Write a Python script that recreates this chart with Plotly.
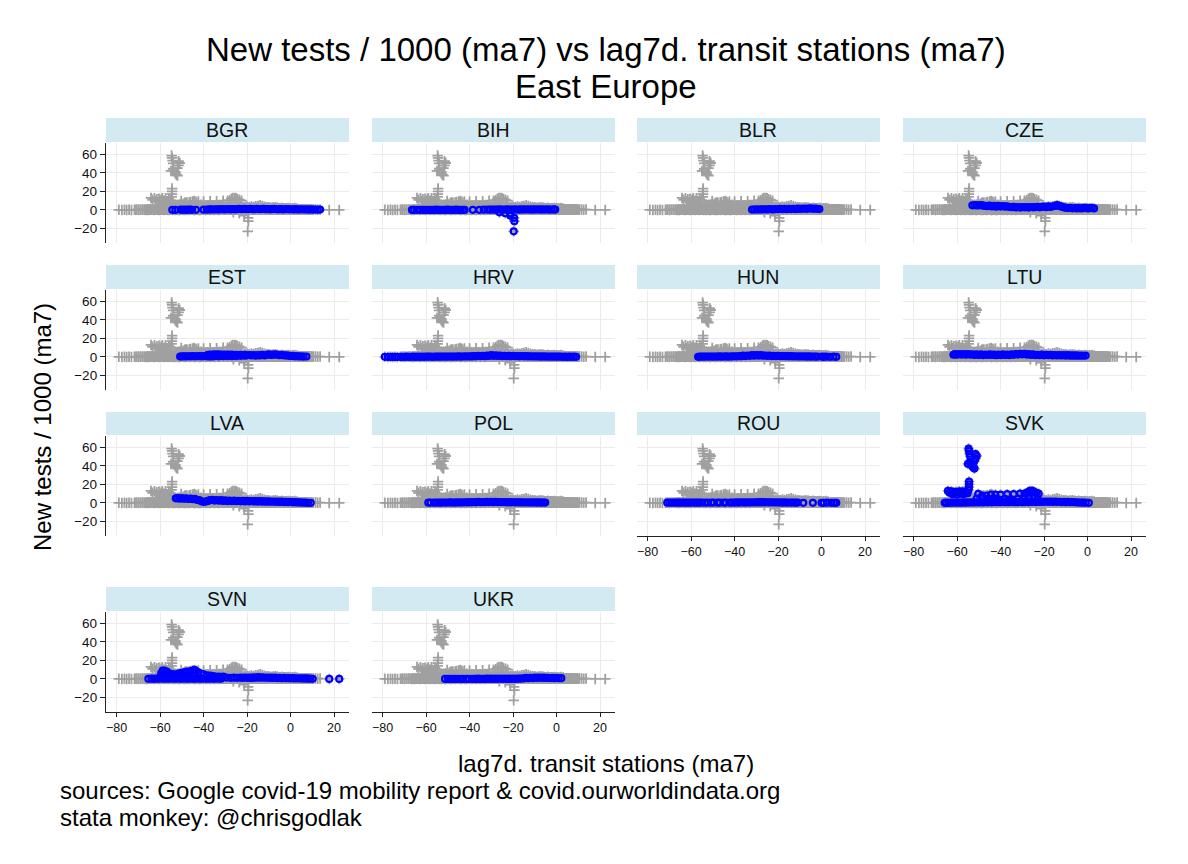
import plotly.graph_objects as go

BGR = [(-54.4,0.2),(-53.0,0.1),(-50.5,0.3),(-49.6,0.2),(-48.7,0.4),(-47.8,0.2),(-47,0.3),(-46.1,0.5),(-45.3,0.2),(-43.5,0.2),(-40,0.3),(-38.5,0.4),(-37.4,0.6),(-36.5,0.7),(-35.4,0.5),(-34.5,0.8),(-33.5,0.6),(-32.6,0.7),(-31.6,0.9),(-30.5,0.6),(-29.5,0.8),(-28.6,0.9),(-27.5,0.6),(-26.4,1.0),(-25.5,0.7),(-24.5,0.9),(-23.5,1.1),(-22.5,0.8),(-21.4,1.3),(-20.5,0.9),(-19.5,1.0),(-18.5,1.2),(-17.5,0.8),(-16.5,0.9),(-15.5,1.1),(-14.6,0.8),(-13.5,1.0),(-12.5,1.2),(-11.5,0.9),(-10.5,1.0),(-9.5,0.7),(-8.5,0.9),(-7.5,1.1),(-6.5,0.8),(-5.5,0.7),(-4.5,1.0),(-3.5,0.6),(-2.5,0.8),(-1.5,1.0),(-0.5,0.7),(0.5,0.8),(1.5,0.6),(2.5,0.9),(3.5,0.5),(4.5,0.7),(5.5,0.8),(6.5,0.5),(7.5,0.7),(8.5,0.4),(9.5,0.6),(10.5,0.4),(11.5,0.5),(12.5,0.3),(13.6,0.4)]
BIH = [(-66.5,0.1),(-65.5,0.1),(-64.2,0.2),(-62.8,0.1),(-61.5,0.2),(-60.5,0.1),(-59.2,0.2),(-58.2,0.1),(-57.2,0.2),(-56.2,0.1),(-55.2,0.3),(-54.2,0.1),(-53.2,0.2),(-52.2,0.2),(-51.2,0.1),(-50.2,0.3),(-49.2,0.2),(-48.2,0.1),(-47.2,0.2),(-46.2,0.3),(-45.2,0.2),(-44.3,0.1),(-43.2,0.2),(-42.3,0.1),(-38.5,0.2),(-35.5,0.2),(-33.5,0.3),(-31.8,0.4),(-30.6,0.3),(-29.5,0.5),(-28.5,0.3),(-27.5,0.4),(-26.5,0.6),(-26.3,-2.5),(-25.5,0.4),(-24.5,0.5),(-23.6,-3.5),(-23.4,0.4),(-22.4,0.6),(-21.3,-6.0),(-21.3,-3.6),(-21.2,0.5),(-20.3,0.4),(-19.4,-12.0),(-19.5,-8.5),(-19.7,-23.0),(-19.2,0.6),(-18.2,0.5),(-17.2,0.4),(-16.2,0.6),(-15.2,0.5),(-14.2,0.7),(-13.2,0.5),(-12.2,0.6),(-11.2,0.4),(-10.2,0.6),(-9.2,0.5),(-8.2,0.7),(-7.2,0.4),(-6.2,0.6),(-5.2,0.5),(-4.2,0.6),(-3.2,0.4),(-2.2,0.5),(-1.2,0.6),(-0.6,0.4)]
BLR = [(-32,0.4),(-31,0.5),(-30,0.6),(-29,0.5),(-28,0.7),(-27,0.6),(-26,0.8),(-25,0.5),(-24,0.9),(-23,0.7),(-22,0.6),(-21,1.0),(-20,0.8),(-19,1.2),(-18,0.9),(-17,1.1),(-16,0.8),(-15,1.2),(-14,1.0),(-13,1.3),(-12,1.0),(-11,1.4),(-10,1.1),(-9,1.3),(-8,1.6),(-7,1.2),(-6,1.5),(-5,1.8),(-4,1.2),(-3,1.5),(-2,1.2),(-1,1.0)]
CZE = [(-53,5.0),(-52,5.2),(-51,4.9),(-50,5.0),(-49,5.2),(-48,4.6),(-47,4.4),(-46,4.0),(-45,4.6),(-44,3.8),(-43,4.5),(-42,3.6),(-41,4.4),(-40,3.7),(-39,4.3),(-38,3.5),(-37,4.0),(-36,3.2),(-35,3.0),(-34,3.3),(-33,2.7),(-32,3.2),(-31,2.6),(-30,3.1),(-29,2.8),(-28,3.0),(-27,2.6),(-26,3.2),(-25,2.8),(-24,3.0),(-23,3.4),(-22,2.9),(-21,3.3),(-20,3.6),(-19,3.0),(-18,3.8),(-17,3.2),(-16,4.0),(-15,4.4),(-14,5.2),(-13,4.4),(-12,3.5),(-11,2.8),(-10,2.3),(-9,2.0),(-8,2.4),(-7,1.8),(-6,2.1),(-5,1.7),(-4,2.0),(-3,1.6),(-2,1.9),(-1,2.2),(0,1.6),(1,1.9),(2,2.1),(3,1.7)]
EST = [(-50.8,0.5),(-50,0.6),(-49,0.7),(-48,0.6),(-47,0.8),(-46,0.7),(-45,0.9),(-44,0.7),(-43,0.8),(-42,0.9),(-41,0.7),(-40,0.9),(-39,1.0),(-38,2.2),(-38,0.5),(-37,2.6),(-37,0.7),(-36,2.4),(-36,0.6),(-35,2.8),(-35,0.8),(-34,2.5),(-33,0.7),(-33,2.7),(-32,2.4),(-31,0.9),(-31,2.6),(-30,2.2),(-29,1.0),(-29,2.5),(-28,2.2),(-27,0.9),(-27,2.6),(-26,2.1),(-25,1.0),(-25,2.4),(-24,2.0),(-23,1.2),(-23,2.3),(-22,1.9),(-21,1.3),(-21,2.2),(-20,1.8),(-19,2.1),(-18,1.6),(-17,2.0),(-16,1.5),(-15,1.9),(-14,1.6),(-13,2.2),(-12,1.7),(-11,2.4),(-10,2.7),(-9,2.2),(-8,2.5),(-7,2.8),(-6,2.3),(-5,1.9),(-4,2.2),(-3,1.6),(-2,1.8),(-1,1.4),(0,1.0),(1,1.2),(2,0.7),(3,0.9),(4,0.5),(5,0.7),(6,0.4),(7.3,0.5)]
HRV = [(-79,0.2),(-77.6,0.1),(-76.4,0.2),(-75.4,0.1),(-74.3,0.2),(-73.2,0.1),(-71.8,0.2),(-71,0.2),(-70,0.1),(-69,0.3),(-68,0.2),(-67,0.2),(-66,0.3),(-65,0.2),(-64,0.3),(-63,0.2),(-62,0.4),(-61,0.2),(-60,0.3),(-59,0.4),(-58,0.3),(-57,0.2),(-56,0.4),(-55,0.3),(-54,0.4),(-53,0.3),(-52,0.5),(-51,0.3),(-50,0.4),(-49,0.5),(-48,0.3),(-47,0.5),(-46,0.4),(-45,0.6),(-44,0.4),(-43,0.5),(-42,0.7),(-41,0.5),(-40,0.7),(-39,0.6),(-38,0.9),(-37,0.7),(-36,1.1),(-35,0.8),(-34,1.3),(-33,0.9),(-32,1.6),(-31,1.1),(-30,1.9),(-29,1.2),(-28,1.7),(-27,1.1),(-26,1.5),(-25,1.0),(-24,1.3),(-23,0.9),(-22,1.2),(-21,0.8),(-20,1.1),(-19,0.8),(-18,1.0),(-17,0.7),(-16,1.0),(-15,0.7),(-14,0.9),(-13,0.6),(-12,0.8),(-11,0.5),(-10,0.7),(-9,0.5),(-8,0.6),(-7,0.4),(-6,0.6),(-5,0.4),(-4,0.5),(-3,0.3),(-2,0.5),(-1,0.3),(0,0.4),(1,0.3),(2,0.4),(3,0.2),(4,0.3),(5,0.2),(6,0.3),(7,0.2),(8,0.3),(9,0.2)]
HUN = [(-56.8,0.2),(-56,0.3),(-55,0.4),(-54,0.3),(-53,0.5),(-52,0.4),(-51,0.5),(-50,0.3),(-49,0.5),(-48,0.4),(-47,0.6),(-46,0.4),(-45,0.5),(-44,0.6),(-43,0.4),(-42,0.5),(-41,0.6),(-40,0.8),(-39,0.5),(-38,1.0),(-37,0.7),(-36,1.4),(-35,1.0),(-34,1.6),(-33,1.2),(-32,1.9),(-31,1.4),(-30,2.0),(-29,1.5),(-28,1.9),(-27,1.4),(-26,1.6),(-25,1.2),(-24,1.4),(-23,1.0),(-22,1.2),(-21,0.9),(-20,1.1),(-19,0.8),(-18,1.0),(-17,0.8),(-16,0.9),(-15,0.7),(-14,0.9),(-13,0.6),(-12,0.8),(-11,0.5),(-10,0.7),(-9,0.5),(-8,0.7),(-7,0.4),(-6,0.6),(-5,0.4),(-4,0.5),(-3,0.4),(-2,0.3),(0.2,0.3),(1.0,0.2),(2.0,0.3),(3.8,0.2),(5.5,0.3),(6.8,0.2)]
LTU = [(-61.7,2.4),(-61,3.0),(-60,2.5),(-59,3.2),(-58,2.6),(-57,3.1),(-56,2.4),(-55,3.0),(-54,2.6),(-53,2.9),(-52,2.2),(-51,2.8),(-50,2.1),(-49,2.7),(-48,2.0),(-47,2.6),(-46,2.1),(-45,2.8),(-44,2.2),(-43,2.6),(-42,1.9),(-41,2.5),(-40,2.0),(-39,2.7),(-38,2.1),(-37,2.5),(-36,2.0),(-35,2.9),(-34,2.3),(-33,3.2),(-32,2.6),(-31,3.4),(-30,2.8),(-29,3.4),(-28,2.6),(-27,3.0),(-26,2.2),(-25,2.8),(-24,2.0),(-23,2.4),(-22,1.9),(-21,2.5),(-20,1.8),(-19,2.4),(-18,1.9),(-17,2.2),(-16,1.7),(-15,2.1),(-14,1.6),(-13,2.0),(-12,1.6),(-11,1.9),(-10,1.5),(-9,1.9),(-8,1.4),(-7,1.8),(-6,1.4),(-5,1.7),(-4,1.3),(-3,1.6),(-2,1.3),(-0.9,1.5)]
LVA = [(-52.8,5.0),(-52,5.2),(-51,4.6),(-50,5.2),(-49,4.5),(-48,5.0),(-47,4.3),(-46,4.8),(-45,4.0),(-44,4.4),(-43,3.2),(-42,3.0),(-41,1.8),(-40,1.2),(-39,1.5),(-38,2.2),(-37,3.0),(-36,3.4),(-35,2.6),(-34,3.2),(-33,2.4),(-32,3.0),(-31,2.2),(-30,2.8),(-29,2.0),(-28,2.6),(-27,2.0),(-26,2.5),(-25,1.9),(-24,2.4),(-23,1.8),(-22,2.3),(-21,1.7),(-20,2.2),(-19,1.6),(-18,2.1),(-17,1.6),(-16,2.0),(-15,1.5),(-14,1.9),(-13,1.4),(-12,1.8),(-11,1.4),(-10,1.7),(-9,1.3),(-8,1.6),(-7,1.2),(-6,1.5),(-5,1.1),(-4,1.4),(-3,1.0),(-2,1.2),(-1,0.9),(0,1.1),(1,0.7),(2,0.9),(3,0.6),(4,0.7),(5,0.4),(6,0.5),(7,0.3),(8,0.2),(9.3,0.2)]
POL = [(-59,0.3),(-58,0.4),(-56.4,0.3),(-55.2,0.4),(-54,0.3),(-53,0.4),(-52,0.5),(-51,0.4),(-50,0.5),(-49,0.6),(-48,0.5),(-47,0.4),(-46,0.6),(-45,0.5),(-44,0.7),(-43,0.5),(-42,0.8),(-41,0.6),(-40,0.9),(-39,0.7),(-38,1.0),(-37,0.7),(-36,1.1),(-35,0.8),(-34,1.0),(-33,0.8),(-32,1.1),(-31,0.9),(-30,1.2),(-29,0.9),(-28,1.1),(-27,0.8),(-26,1.0),(-25,0.8),(-24,1.0),(-23,0.7),(-22,0.9),(-21,0.7),(-20,0.8),(-19,0.6),(-18,0.8),(-17,0.6),(-16,0.7),(-15,0.5),(-14,0.7),(-13,0.5),(-12,0.6),(-11,0.5),(-10,0.6),(-9,0.4),(-8,0.6),(-7,0.4),(-6,0.5),(-5.2,0.4)]
ROU = [(-71,0.3),(-70,0.4),(-69,0.3),(-68,0.4),(-67,0.3),(-66,0.4),(-65,0.3),(-64,0.5),(-63,0.3),(-62,0.4),(-61,0.3),(-60,0.4),(-59,0.5),(-58,0.3),(-57,0.4),(-56,0.3),(-55,0.5),(-53.6,0.3),(-52.2,0.4),(-50.6,0.3),(-49.6,0.5),(-47.8,0.3),(-46.8,0.4),(-45,0.3),(-44,0.4),(-42.2,0.3),(-41,0.5),(-40,0.4),(-39,0.6),(-38,0.4),(-37,0.7),(-36,0.5),(-35,0.6),(-34,0.5),(-33,0.7),(-32,0.5),(-31,0.8),(-30,0.6),(-29,0.9),(-28,0.6),(-27,1.0),(-26,0.7),(-25,0.8),(-24,0.6),(-23,0.8),(-22,0.5),(-21,0.7),(-20,0.5),(-19,0.6),(-18,0.4),(-17,0.6),(-16,0.4),(-15,0.5),(-14,0.4),(-13,0.5),(-12,0.3),(-11,0.4),(-8.4,0.2),(-4,0.2),(0,0.2),(1,0.2),(2.6,0.3),(4.6,0.2),(5.8,0.2),(6.8,0.2)]
SVK = [(-54.7,58.5),(-54.5,56),(-54.3,53),(-54.0,50),(-51.5,52.5),(-51,50.5),(-51.5,48),(-52,45),(-55,42),(-54,42.5),(-53,41),(-52.5,38),(-52,37),(-53,39.5),(-54,44.5),(-54.5,23),(-54.5,20),(-54.6,17),(-54.7,14),(-64.2,13),(-63.5,11),(-62.6,12.5),(-62,9.5),(-61.5,11.5),(-60.5,12),(-60,9),(-59.5,11),(-59,12.5),(-58.2,10),(-57.5,12.5),(-57,9.5),(-56,12),(-55.2,10.5),(-50.3,9.7),(-48.5,8),(-46.6,8),(-44.4,9),(-42.4,9),(-40,9),(-37,9.5),(-34,9.5),(-31,10),(-29,10),(-28,10.5),(-27.2,12),(-26.5,13),(-25.6,13),(-25,12.5),(-24.4,11.5),(-23.5,11),(-22.5,10),(-51,4.8),(-48,5.5),(-45.5,4.5),(-43,5),(-41,3.8),(-38,4.5),(-35,3.8),(-32,4.6),(-29,5),(-27,6),(-25,5),(-23,4),
(-65.7,0.2),(-65,0.3),(-64,0.2),(-63,0.4),(-62,0.3),(-61,0.5),(-60,0.3),(-59,0.5),(-58,0.3),(-57,0.6),(-56,0.4),(-55,0.6),(-54,0.5),(-53,0.7),(-52,0.5),(-51,0.8),(-50,0.6),(-49,0.9),(-48,0.6),(-47,1.0),(-46,0.7),(-45,0.9),(-44,0.7),(-43,1.0),(-42,0.8),(-41,1.0),(-40,0.8),(-39,1.1),(-38,0.8),(-37,1.0),(-36,0.8),(-35,1.1),(-34,0.9),(-33,1.0),(-32,0.8),(-31,1.1),(-30,0.9),(-29,1.0),(-28,1.2),(-27,0.9),(-26,1.1),(-25,1.4),(-24,1.0),(-23,1.3),(-22,1.1),(-21,1.4),(-20,1.2),(-19,1.5),(-18,1.2),(-17,1.5),(-16,1.2),(-15,1.4),(-14,1.2),(-13,1.3),(-12,1.0),(-11,1.2),(-10,0.9),(-9,1.1),(-8,0.8),(-7,1.0),(-6,0.8),(-5,0.7),(-4,0.5),(-3,0.5),(-2,0.3),(-0.8,0.3),(0.6,0.2)]
SVN = [(-65.4,0.2),(-64,0.3),(-63,0.2),(-62,0.4),(-61,0.5),(-60,2),(-59.5,6),(-58.8,9),(-58,9),(-57,8),(-56,6),(-55,5.4),(-54,5),(-53,4.5),(-52,5.5),(-51,6),(-50,6.5),(-49,7),(-47.7,8),(-46,8.5),(-45,9),(-44.2,9.7),(-43.5,8.5),(-42.5,7),(-41.2,5.5),(-40,5),(-38.5,4),(-37,3.5),(-36,3.2),(-35,2.8),(-33,2.6),(-31,2.5),(-29.5,1.5),(-27.6,1.2),(-26,1.4),(-24.4,1.2),(-23,1.5),(-22,1.2),(-21,1.6),(-20,1.2),(-19,1.5),(-18,1.1),(-17,1.7),(-16,1.3),(-15,1.9),(-14,1.4),(-13,1.8),(-12,1.3),(-11,1.6),(-10,1.2),(-9,1.5),(-8,1.1),(-7,1.4),(-6,1.0),(-5,1.3),(-4,0.9),(-3,1.1),(-2,0.8),(-1,1.0),(0,0.7),(1,0.9),(2,0.6),(3,0.8),(4,0.5),(5,0.7),(6,0.4),(7,0.6),(8,0.3),(9,0.4),(10.2,0.2),(17.8,0.1),(22.4,0.1),
(-60.5,0.3),(-59,0.4),(-58,0.3),(-57,0.5),(-56,0.3),(-55,0.5),(-54,0.4),(-53,0.3),(-52,0.5),(-51,0.4),(-50,0.3),(-49,0.5),(-48,0.4),(-47,0.3),(-46,0.5),(-45,0.4),(-44,0.3),(-43,0.5),(-42,0.4),(-41,0.3),(-40,0.5),(-39,0.4),(-38,0.3),(-37,0.5),(-36,0.4),(-35,0.3),(-34,0.5),(-33,0.4),(-32,0.3)]
UKR = [(-51.3,0.1),(-50,0.2),(-49,0.1),(-47.6,0.2),(-46.6,0.1),(-45.4,0.2),(-44,0.1),(-43,0.2),(-41.6,0.1),(-40.4,0.2),(-39,0.1),(-38,0.2),(-37,0.1),(-36,0.3),(-35,0.1),(-34,0.2),(-33,0.1),(-32,0.3),(-31,0.2),(-30,0.3),(-29,0.2),(-28,0.3),(-27,0.2),(-26,0.3),(-25,0.2),(-24,0.3),(-23,0.2),(-22,0.3),(-21,0.2),(-20,0.3),(-19,0.2),(-18,0.4),(-17,0.3),(-16,0.5),(-15,0.7),(-14,1.1),(-13,0.8),(-12,1.3),(-11,1.0),(-10,1.5),(-9,1.1),(-8,1.6),(-7,1.2),(-6,1.5),(-5,1.1),(-4,1.3),(-3,1.0),(-2,1.2),(-1,0.9),(0,1.1),(1,0.8),(2.2,0.9)]

COUNTRIES = ["BGR","BIH","BLR","CZE","EST","HRV","HUN","LTU","LVA","POL","ROU","SVK","SVN","UKR"]
SERIES = [BGR,BIH,BLR,CZE,EST,HRV,HUN,LTU,LVA,POL,ROU,SVK,SVN,UKR]
X_TICKS = [-80,-60,-40,-20,0,20]
Y_TICKS = [-20,0,20,40,60]

W, H = 1188, 864
COLS = [106, 372, 637, 903]
ROWS = [(118,143,243),(265,290,390),(412,436,536),(587,612,712)]
PW = 243
X_RANGE = [-84.9, 26.9]
Y_RANGE = [-35.5, 72.0]
FONT = "Liberation Sans"

all_x = [p[0] for s in SERIES for p in s]
all_y = [p[1] for s in SERIES for p in s]

fig = go.Figure()
layout = {}
shapes, annotations = [], []
for i, (name, data) in enumerate(zip(COUNTRIES, SERIES)):
    r, c = i // 4, i % 4
    left = COLS[c]
    stop, ptop, pbot = ROWS[r]
    xa, ya = f"xaxis{i+1}", f"yaxis{i+1}"
    xr, yr = f"x{i+1}", f"y{i+1}"
    bottom = (r == 3) or (r == 2 and c >= 2)
    layout[xa] = dict(domain=[left/W, (left+PW)/W], range=X_RANGE, anchor=yr, tickvals=X_TICKS,
                      showgrid=True, gridcolor="#EBEBEB", gridwidth=1.3, zeroline=False,
                      showline=bottom, linecolor="#222222", linewidth=1.3,
                      ticks="outside" if bottom else "", ticklen=4, tickwidth=1, tickcolor="#222222",
                      showticklabels=bottom, tickfont=dict(family=FONT, size=12.5, color="#111111"))
    layout[ya] = dict(domain=[1-pbot/H, 1-ptop/H], range=Y_RANGE, anchor=xr, tickvals=Y_TICKS,
                      showgrid=True, gridcolor="#EBEBEB", gridwidth=1.3, zeroline=False,
                      showline=(c == 0), linecolor="#222222", linewidth=1.3,
                      ticks="outside" if c == 0 else "", ticklen=5, tickwidth=1, tickcolor="#222222",
                      showticklabels=(c == 0), tickfont=dict(family=FONT, size=13.5, color="#111111"))
    fig.add_trace(go.Scatter(x=all_x, y=all_y, mode="markers", xaxis=xr, yaxis=yr, showlegend=False,
                             hoverinfo="skip", cliponaxis=False,
                             marker=dict(symbol="cross-thin-open", size=7.5, color="#A0A0A0",
                                         line=dict(color="#A0A0A0", width=1.8))))
    fig.add_trace(go.Scatter(x=[p[0] for p in data], y=[p[1] for p in data], mode="markers", xaxis=xr, yaxis=yr,
                             showlegend=False, name=name, cliponaxis=False,
                             marker=dict(symbol="circle-open", size=6, color="#0000FF",
                                         line=dict(color="#0000FF", width=2.2))))
    shapes.append(dict(type="rect", xref="paper", yref="paper", x0=left/W, x1=(left+PW)/W,
                       y0=1-(ptop-1)/H, y1=1-stop/H, fillcolor="#D3EAF2", line=dict(width=0), layer="below"))
    annotations.append(dict(text=name, xref="paper", yref="paper", x=(left+PW/2-0.5)/W, y=1-((stop+ptop-1)/2)/H,
                            showarrow=False, xanchor="center", yanchor="middle",
                            font=dict(family=FONT, size=19.5, color="#111111")))

def text(s, x, y, size, anchor="center", angle=0):
    annotations.append(dict(text=s, xref="paper", yref="paper", x=x/W, y=1-y/H, showarrow=False,
                            xanchor=anchor, yanchor="middle", textangle=angle,
                            font=dict(family=FONT, size=size, color="#000000")))

text("New tests / 1000 (ma7) vs lag7d. transit stations (ma7)", 606, 50, 33)
text("East Europe", 606, 87, 33)
text("New tests / 1000 (ma7)", 42, 427, 24, angle=-90)
text("lag7d. transit stations (ma7)", 606, 763, 24)
text("sources: Google covid-19 mobility report &amp; covid.ourworldindata.org", 58, 790, 24, anchor="left")
text("stata monkey: @chrisgodlak", 58, 817.5, 24, anchor="left")

fig.update_layout(width=W, height=H, margin=dict(l=0, r=0, t=0, b=0), paper_bgcolor="white",
                  plot_bgcolor="white", showlegend=False, shapes=shapes, annotations=annotations, **layout)
fig.write_html("out.html", post_script="document.body.style.margin='0';", config={"displayModeBar": False})
